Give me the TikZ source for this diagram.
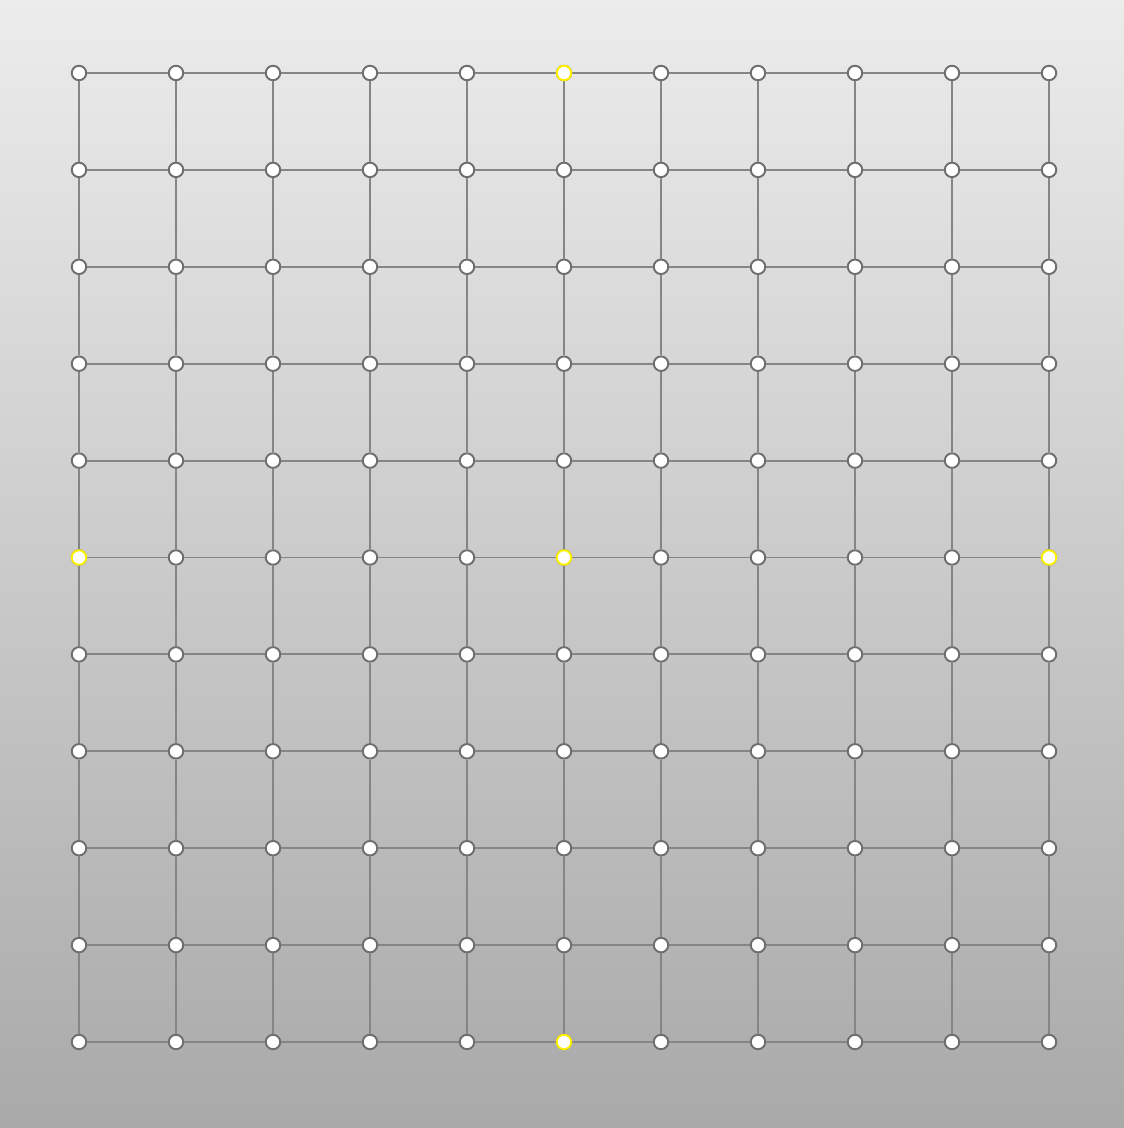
\documentclass[tikz,border=0pt]{standalone}
\usepackage{tikz}
\definecolor{bgtop}{HTML}{ECECEC}
\definecolor{bgbot}{HTML}{A9A9A9}
\definecolor{edgegray}{HTML}{858585}
\definecolor{ringgray}{HTML}{6E6E6E}
\tikzset{
    vtx/.style={circle, draw=ringgray, fill=white, line width=1.1pt, inner sep=0pt, minimum size=0.29cm},
    mark vtx/.style={vtx, draw=yellow},
    link/.style={draw=edgegray, line width=1.1pt}
}

\begin{document}
\begin{tikzpicture}[x=0.02cm, y=-0.02cm]
                \shade[top color=bgtop, bottom color=bgbot] (0,0) rectangle (1124,1128);
                \useasboundingbox (0,0) rectangle (1124,1128);
                % vertices
                \foreach \i in {0,...,10} {
                    \foreach \j in {0,...,10} {
                        \node[vtx] (n-\i-\j) at ({79+97*\i},{73+96.9*\j}) {};
                    }
                }
                % edges
                \foreach \i in {0,...,10} {
                    \foreach \j [evaluate=\j as \k using int(\j+1)] in {0,...,9} {
                        \draw[link] (n-\i-\j) -- (n-\i-\k);
                        \draw[link] (n-\j-\i) -- (n-\k-\i);
                    }
                }
                % highlighted
                \foreach \i/\j in {5/0, 0/5, 5/5, 10/5, 5/10} {
                    \node[mark vtx] at (n-\i-\j) {};
                }
            \end{tikzpicture}
\end{document}
